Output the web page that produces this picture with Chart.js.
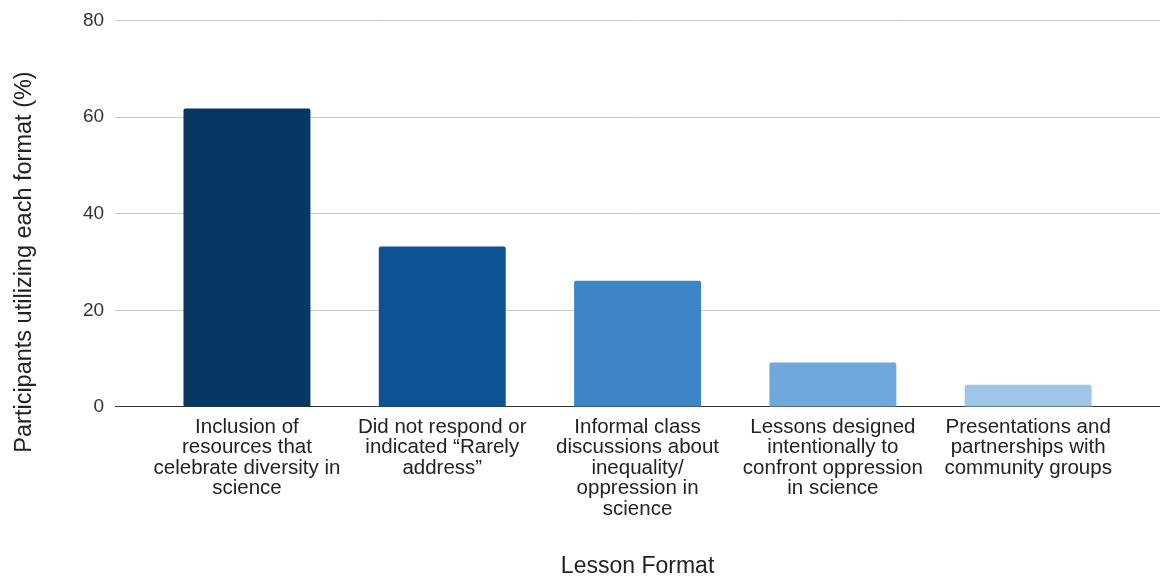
<!DOCTYPE html>
<html>
<head>
<meta charset="utf-8">
<title>Lesson Format</title>
<script src="https://cdn.jsdelivr.net/npm/chart.js@4/dist/chart.umd.min.js"></script>
<style>
  html, body { margin: 0; padding: 0; background: #fff; }
  #wrap { width: 1160px; height: 577px; position: relative; }
</style>
</head>
<body>
<div id="wrap"><canvas id="chart"></canvas></div>
<script>
// Lesson formats used to address diversity / oppression in science.
// Bars on a linear x scale so the category band can be narrower than the grid.

const FORMAT_LABELS = [
  ['Inclusion of', 'resources that', 'celebrate diversity in', 'science'],
  ['Did not respond or', 'indicated \u201cRarely', 'address\u201d'],
  ['Informal class', 'discussions about', 'inequality/', 'oppression in', 'science'],
  ['Lessons designed', 'intentionally to', 'confront oppression', 'in science'],
  ['Presentations and', 'partnerships with', 'community groups'],
];
const PERCENT_USING = [61.8, 33.2, 26.1, 9.2, 4.6];
const BAR_COLORS = ['#073763', '#0b5394', '#3d85c6', '#6fa8dc', '#9fc5e8'];
const Y_TICKS = [0, 20, 40, 60, 80];

const FONT = 'Arial, "Liberation Sans", sans-serif';
const Y_TITLE = 'Participants utilizing each format (%)';
const X_TITLE = 'Lesson Format';

// y title sits lower than the plot centre, so it is painted by hand
const yTitlePlugin = {
  id: 'yTitle',
  afterDraw(chart) {
    const c = chart.ctx;
    c.save();
    c.translate(25, 262);
    c.rotate(-Math.PI / 2);
    c.font = '23.5px ' + FONT;
    c.fillStyle = '#222';
    c.textAlign = 'center';
    c.textBaseline = 'middle';
    c.fillText(Y_TITLE, 0, 0);
    c.restore();
  },
};

const points = PERCENT_USING.map((v, i) => ({ x: i, y: v }));

new Chart(document.getElementById('chart'), {
  type: 'bar',
  data: {
    datasets: [{
      data: points,
      backgroundColor: BAR_COLORS,
      borderWidth: 0,
      borderRadius: { topLeft: 2, topRight: 2, bottomLeft: 0, bottomRight: 0 },
      borderSkipped: 'bottom',
      barPercentage: 0.65,
      categoryPercentage: 1,
    }],
  },
  plugins: [yTitlePlugin],
  options: {
    responsive: true,
    maintainAspectRatio: false,
    animation: false,
    layout: { padding: { top: 19, right: 0, bottom: 0, left: 72 } },
    plugins: {
      legend: { display: false },
      tooltip: { enabled: false },
    },
    scales: {
      x: {
        type: 'linear',
        offset: false,
        min: -0.675,
        max: 4.675,
        grid: { display: false, drawTicks: false, offset: false },
        border: { display: false },
        ticks: {
          stepSize: 1,
          includeBounds: false,
          autoSkip: false,
          maxRotation: 0,
          minRotation: 0,
          padding: 10,
          color: '#222',
          font: { size: 20.5, family: FONT, lineHeight: 1.0 },
          callback: v => (Number.isInteger(v) && FORMAT_LABELS[v]) ? FORMAT_LABELS[v] : '',
        },
        title: {
          display: true,
          text: X_TITLE,
          color: '#222',
          font: { size: 23, family: FONT },
          padding: { top: 23, bottom: -3 },
        },
      },
      y: {
        min: Y_TICKS[0],
        max: Y_TICKS[Y_TICKS.length - 1],
        border: { display: false },
        grid: {
          drawTicks: false,
          color: ctx => ctx.tick.value === 0 ? '#333' : '#ccc',
          lineWidth: 1,
        },
        afterBuildTicks: axis => { axis.ticks = Y_TICKS.map(v => ({ value: v })); },
        ticks: {
          padding: 11,
          color: '#333',
          font: { size: 19, family: FONT, lineHeight: 1.0 },
        },
      },
    },
  },
});
</script>
</body>
</html>
